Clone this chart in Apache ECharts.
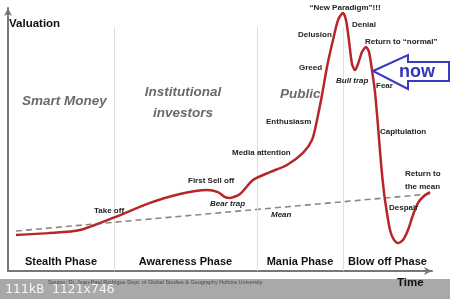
<!DOCTYPE html>
<html><head><meta charset="utf-8">
<script src="https://cdn.jsdelivr.net/npm/echarts@6/dist/echarts.min.js"></script>
<style>html,body{margin:0;padding:0;background:#fff}#c{width:450px;height:299px}</style>
</head><body><div id="c"></div>
<script>
// Time (0-106) and valuation (0-100)
const time = [2, 10, 18, 26.75, 35.5, 43, 49.75, 52.5, 54.25, 55.5, 58, 61.25, 65.5, 69.75, 73.75, 76, 77.25, 78.5, 79.75, 81.25, 82.5, 83.75, 84.5, 85.25, 86, 86.75, 87.5, 88.5, 89.5, 90.25, 91, 91.75, 92.4, 93, 93.6, 94.25, 95.5, 96.5, 97.5, 98.75, 100, 101.25, 102.5, 104, 105.5];
const valuation = [13.7, 14.4, 15.6, 20.5, 25.9, 29.3, 30.8, 30, 28.1, 27.8, 29.3, 34.6, 37.6, 40.3, 44.9, 49.8, 57.4, 66.9, 77.6, 87.8, 95.4, 98.1, 95.4, 87.5, 78.7, 76.4, 78.7, 83.3, 85.2, 83.3, 76.4, 68, 57, 45.6, 35.4, 27, 15.6, 11.8, 10.6, 11.8, 15.6, 21.3, 25.9, 28.5, 30];
const meanTime = [2, 105.5];
const meanValue = [15.2, 29.3];
const phaseBounds = [26.5, 62.25, 83.75];
const phaseNames = ['Stealth Phase', 'Awareness Phase', 'Mania Phase', 'Blow off Phase'];
const dividerTop = 92.8;

const chart = echarts.init(document.getElementById('c'), null, {renderer: 'canvas'});
const SANS = '"Liberation Sans", Arial, sans-serif';

function txt(text, x, y, size, opts) {
  opts = opts || {};
  return {
    type: 'text', x: x, y: y, z: 50,
    style: {
      text: text,
      fontFamily: opts.family || SANS,
      fontSize: size,
      fontWeight: opts.weight || 'bold',
      fontStyle: opts.italic ? 'italic' : 'normal',
      fill: opts.color || '#222',
      textAlign: opts.align || 'left',
      textVerticalAlign: 'middle',
      verticalAlign: 'middle'
    }
  };
}

const annotations = [
  ['\u201cNew Paradigm\u201d!!!', 345, 8, {align: 'center'}],
  ['Denial', 352, 25],
  ['Delusion', 298, 35],
  ['Return to \u201cnormal\u201d', 365, 42],
  ['Greed', 299, 68],
  ['Bull trap', 336, 81, {italic: true}],
  ['Fear', 376, 86],
  ['Enthusiasm', 266, 122],
  ['Media attention', 232, 153],
  ['First Sell off', 188, 181],
  ['Bear trap', 210, 204, {italic: true}],
  ['Take off', 94, 211],
  ['Mean', 271, 215, {italic: true}],
  ['Capitulation', 380, 132],
  ['Return to', 405, 174],
  ['the mean', 405, 187],
  ['Despair', 389, 208]
];

const graphics = [
  {type: 'rect', shape: {x: 0, y: 279, width: 450, height: 20}, style: {fill: '#a9a9a9'}, z: 1},
  txt('Source: Dr. Jean-Paul Rodrigue Dept. of Global Studies & Geography Hofstra University', 48, 282, 5.5, {weight: 'normal', color: '#4a4a4a'}),
  txt('111kB 1121x746', 5, 290, 13, {weight: 'normal', color: '#f4f4f4', family: '"DejaVu Sans Mono", "Liberation Mono", monospace'}),
  txt('Time', 397, 283, 11.5, {color: '#111'}),
  txt('Valuation', 9, 24, 11.5, {color: '#111'}),
  txt('Smart Money', 22, 101, 13.5, {italic: true, color: '#6a6a6a'}),
  txt('Institutional', 183, 92, 13.5, {italic: true, color: '#6a6a6a', align: 'center'}),
  txt('investors', 183, 113, 13.5, {italic: true, color: '#6a6a6a', align: 'center'}),
  txt('Public', 280, 94, 13.5, {italic: true, color: '#6a6a6a'}),
  {type: 'polygon', z: 40, shape: {points: [[373, 71], [408, 55], [408, 62], [449, 62], [449, 81], [408, 81], [408, 89]]},
   style: {fill: '#fff', stroke: '#3a3ac0', lineWidth: 2}},
  txt('now', 399, 72, 18, {color: '#3535b8'})
];
annotations.forEach(a => graphics.push(txt(a[0], a[1], a[2], 8, a[3] || {})));

chart.setOption({
  animation: false,
  backgroundColor: '#fff',
  grid: {left: 8, right: 18, top: 8, bottom: 28},
  xAxis: {type: 'value', min: 0, max: 106,
    axisLine: {show: true, symbol: ['none', 'arrow'], symbolSize: [6, 8], lineStyle: {color: '#777', width: 2}},
    axisTick: {show: false}, axisLabel: {show: false}, splitLine: {show: false}},
  yAxis: {type: 'value', min: 0, max: 100,
    axisLine: {show: true, symbol: ['none', 'arrow'], symbolSize: [6, 8], lineStyle: {color: '#777', width: 2}},
    axisTick: {show: false}, axisLabel: {show: false}, splitLine: {show: false}},
  series: [
    {type: 'line', name: 'mean', data: meanTime.map((t, i) => [t, meanValue[i]]), symbol: 'none',
     lineStyle: {color: '#888', width: 1.6, type: [6, 4]}, z: 2},
    {type: 'line', name: 'dividers', data: [], symbol: 'none',
     markLine: {silent: true, symbol: ['none', 'none'], label: {show: false},
       lineStyle: {color: '#dedede', width: 1, type: 'solid'},
       data: phaseBounds.map(b => [{coord: [b, 0]}, {coord: [b, dividerTop]}])}},
    {type: 'line', name: 'valuation', data: time.map((t, i) => [t, valuation[i]]), symbol: 'none', smooth: 0.25,
     lineStyle: {color: '#b8262a', width: 2.5}, z: 5}
  ],
  graphic: graphics
});

// phase labels centered in each phase
const edges = [0].concat(phaseBounds, [106]);
const phaseG = phaseNames.map((n, i) => {
  const cx = (chart.convertToPixel({gridIndex: 0}, [edges[i], 0])[0] + chart.convertToPixel({gridIndex: 0}, [edges[i + 1], 0])[0]) / 2;
  return txt(n, cx, 262, 11, {align: 'center', color: '#111'});
});
chart.setOption({graphic: graphics.concat(phaseG)});
</script></body></html>
